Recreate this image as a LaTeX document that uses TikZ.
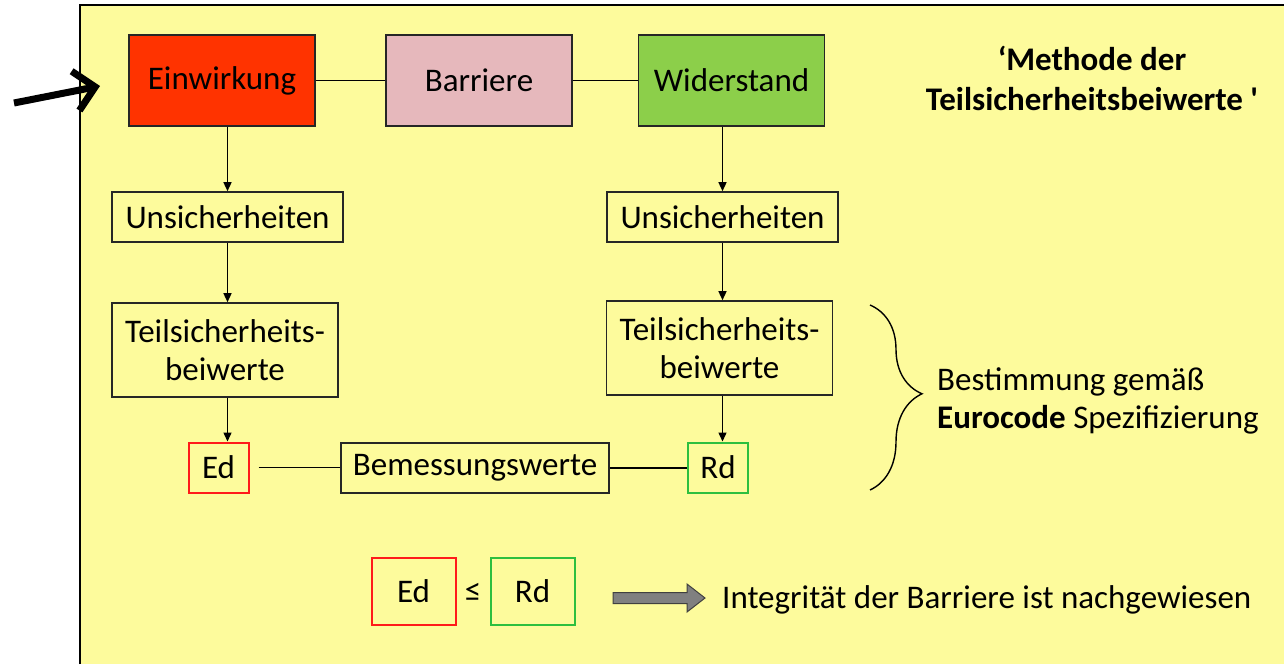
\documentclass[tikz,border=0pt]{standalone}
\usepackage{fontspec}
\setmainfont{Carlito}
\usetikzlibrary{arrows.meta,positioning,calc,decorations.pathreplacing}
\definecolor{bgyellow}{HTML}{FDFB9C}
\definecolor{einred}{HTML}{FF3300}
\definecolor{barpink}{HTML}{E6B8BC}
\definecolor{widgreen}{HTML}{8CCF4A}
\definecolor{edred}{HTML}{FF1A1A}
\definecolor{rdgreen}{HTML}{2DBF3F}

\begin{document}
\begin{tikzpicture}[x=1pt, y=-1pt,
  every node/.style={font=\fontsize{33}{38}\selectfont, inner sep=0pt},
  box/.style={draw=black!85, line width=1.6pt, align=center},
  topbox/.style={box, minimum width=186pt, minimum height=91pt},
  midbox/.style={box, minimum width=231pt, minimum height=50pt},
  teilbox/.style={box, minimum width=226pt, minimum height=94pt},
  valbox/.style={draw, line width=2pt, minimum width=60pt, minimum height=50pt},
  cmpbox/.style={draw, line width=2pt, minimum width=84pt, minimum height=67pt},
  arr/.style={-{Triangle[length=9pt,width=8pt]}, line width=1.4pt},
  link/.style={line width=1.4pt}]
\useasboundingbox (0,0) rectangle (1284,664);
\fill[bgyellow] (80,5) rectangle (1284,664);
\draw[line width=1.4pt] (80,664) -- (80,5) -- (1284,5);

\node[topbox, fill=einred] (ein) at (222,80.5) {Einwirkung};
\node[topbox, fill=barpink] (bar) at (479,80.5) {Barriere};
\node[topbox, fill=widgreen] (wid) at (731.5,80.5) {Widerstand};

\node[midbox] (unsL) at (227.5,217) {Unsicherheiten};
\node[midbox] (unsR) at (722.5,217) {Unsicherheiten};
\node[teilbox] (teilL) at (225,350) {Teilsicherheits-\\beiwerte};
\node[teilbox] (teilR) at (719.5,348) {Teilsicherheits-\\beiwerte};

\node[valbox, draw=edred] (edL) at (218.5,467.5) {Ed};
\node[valbox, draw=rdgreen] (rdR) at (718,467.5) {Rd};
\node[box, minimum width=268pt, minimum height=50pt] (bem) at (475,468) {Bemessungswerte};

\draw[link] (ein) -- (bar);
\draw[link] (bar) -- (wid);
\draw[arr] (ein.south -| unsL) -- (unsL.north);
\draw[arr] (unsL) -- (teilL.north -| unsL);
\draw[arr] (teilL.south -| unsL) -- (edL.north -| unsL);
\draw[arr] (wid.south -| unsR) -- (unsR.north);
\draw[arr] (unsR) -- (teilR.north -| unsR);
\draw[arr] (teilR.south -| unsR) -- (rdR.north -| unsR);
\draw[link, shorten <=9pt] (edL.east) -- (edL.east -| bem.west);
\draw[link] (bem.east) -- (bem.east -| rdR.west);

\node[font=\fontsize{33}{40}\selectfont\bfseries, align=center] (title) at (1092,78)
  {‘Methode der\\Teilsicherheitsbeiwerte \textquotesingle};

\coordinate (bt) at (870,305);
\coordinate (bb) at (870,490);
\draw[line width=1.4pt, decorate, decoration={brace, amplitude=52pt, aspect=0.48}] (bt) -- (bb);
\node[anchor=west, align=left] (best) at (937,401)
  {Bestimmung gemäß\\\textbf{Eurocode} Spezifizierung};

\node[cmpbox, draw=edred] (edB) at (413.5,591.5) {Ed};
\node (leq) at (473,592) {≤};
\node[cmpbox, draw=rdgreen] (rdB) at (532.5,591.5) {Rd};

\draw[fill=black!50, draw=black!75, line width=1pt] (613,592.5) -- (687,592.5) -- (687,584) -- (705,598)
  -- (687,612) -- (687,603.5) -- (613,603.5) -- cycle;
\node[anchor=west] (integ) at (722,600) {Integrität der Barriere ist nachgewiesen};

\coordinate (tail) at (14,103);
\coordinate (tip) at (100,86);
\draw[line width=7pt, -{Straight Barb[length=20pt,width=40pt]}] (tail) -- (tip);
\end{tikzpicture}
\end{document}
